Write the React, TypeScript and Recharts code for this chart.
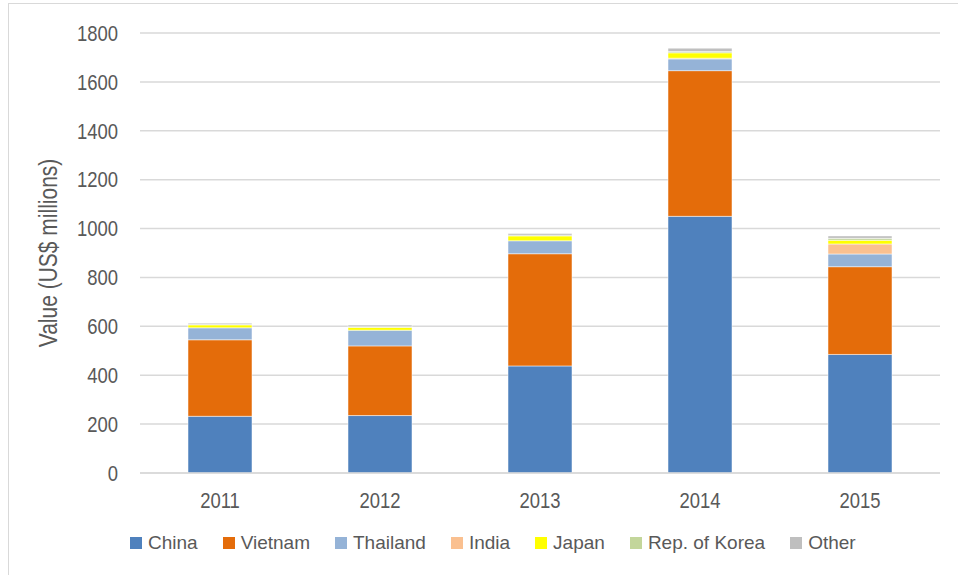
import React from "react";
import { BarChart, Bar, XAxis, YAxis, CartesianGrid, Legend, Label } from "recharts";

const years = ["2011", "2012", "2013", "2014", "2015"];
const china = [232, 235, 438, 1050, 485];
const vietnam = [313, 285, 459, 596, 359];
const thailand = [49, 64, 53, 48, 52];
const india = [0, 0, 0, 3, 41];
const japan = [12, 12, 20, 22, 15];
const korea = [2, 2, 3, 5, 8];
const other = [5, 7, 7, 14, 10];
const yTicks = [0, 200, 400, 600, 800, 1000, 1200, 1400, 1600, 1800];

const series = [
  { key: "China", values: china, color: "#4f81bd" },
  { key: "Vietnam", values: vietnam, color: "#e46c0a" },
  { key: "Thailand", values: thailand, color: "#95b3d7" },
  { key: "India", values: india, color: "#fac090" },
  { key: "Japan", values: japan, color: "#ffff00" },
  { key: "Rep. of Korea", values: korea, color: "#c3d69b" },
  { key: "Other", values: other, color: "#bfbfbf" },
];

const data = years.map((year, i) => {
  const row: Record<string, string | number> = { year };
  series.forEach((s) => {
    row[s.key] = s.values[i];
  });
  return row;
});

const font = "'Liberation Sans', Arial, sans-serif";
const textColor = "#595959";
// reference text looks like a narrow face, so squeeze glyphs horizontally
const squeeze = 0.84;

const YTick = (props: any) => {
  const { x, y, payload } = props;
  return (
    <text
      transform={`translate(${x},${y}) scale(${squeeze},1)`}
      textAnchor="end"
      dy="0.355em"
      fill={textColor}
      fontSize={22}
      fontFamily={font}
    >
      {payload.value}
    </text>
  );
};

const XTick = (props: any) => {
  const { x, y, payload } = props;
  return (
    <text
      transform={`translate(${x},${y}) scale(${squeeze},1)`}
      textAnchor="middle"
      dy="0.71em"
      fill={textColor}
      fontSize={22}
      fontFamily={font}
    >
      {payload.value}
    </text>
  );
};

const YTitle = (props: any) => {
  const { viewBox } = props;
  const cy = viewBox.y + viewBox.height / 2;
  return (
    <text
      transform={`translate(48,${cy}) rotate(-90) scale(${squeeze},1)`}
      textAnchor="middle"
      dy="0.355em"
      fill={textColor}
      fontSize={25}
      fontFamily={font}
    >
      Value (US$ millions)
    </text>
  );
};

const LegendRow = () => (
  <div
    style={{
      display: "flex",
      justifyContent: "flex-start",
      alignItems: "center",
      fontFamily: font,
      fontSize: 19,
      color: textColor,
      paddingTop: 14,
      paddingLeft: 130,
    }}
  >
    {series.map((s) => (
      <div key={s.key} style={{ display: "flex", alignItems: "center", marginRight: 25 }}>
        <span style={{ width: 12, height: 12, background: s.color, marginRight: 6, display: "inline-block" }} />
        <span>{s.key}</span>
      </div>
    ))}
  </div>
);

export default function App() {
  return (
    <div style={{ position: "absolute", left: 0, top: 0, width: 958, height: 575, background: "#fff" }}>
      <div
        style={{
          position: "absolute",
          left: 8,
          top: 3,
          width: 960,
          height: 590,
          borderLeft: "1px solid #d9d9d9",
          borderTop: "1px solid #d9d9d9",
        }}
      />
      <div style={{ position: "absolute", left: 0, top: 0 }}>
        <BarChart
          width={958}
          height={575}
          data={data}
          margin={{ top: 33, right: 18, bottom: 0, left: 0 }}
          barCategoryGap="30%"
        >
          <CartesianGrid vertical={false} stroke="#d9d9d9" strokeWidth={1.5} />
          <XAxis
            dataKey="year"
            axisLine={{ stroke: "#d9d9d9", strokeWidth: 1.5 }}
            tickLine={false}
            tickSize={0}
            tickMargin={19}
            height={45}
            tick={<XTick />}
          />
          <YAxis
            domain={[0, 1800]}
            ticks={yTicks}
            interval={0}
            axisLine={false}
            tickLine={false}
            tickSize={0}
            tickMargin={22}
            width={140}
            tick={<YTick />}
          >
            <Label content={<YTitle />} />
          </YAxis>
          <Legend verticalAlign="bottom" height={57} content={<LegendRow />} />
          {series.map((s) => (
            <Bar
              key={s.key}
              dataKey={s.key}
              stackId="a"
              fill={s.color}
              stroke="#ffffff"
              strokeWidth={0.5}
              isAnimationActive={false}
            />
          ))}
        </BarChart>
      </div>
    </div>
  );
}
